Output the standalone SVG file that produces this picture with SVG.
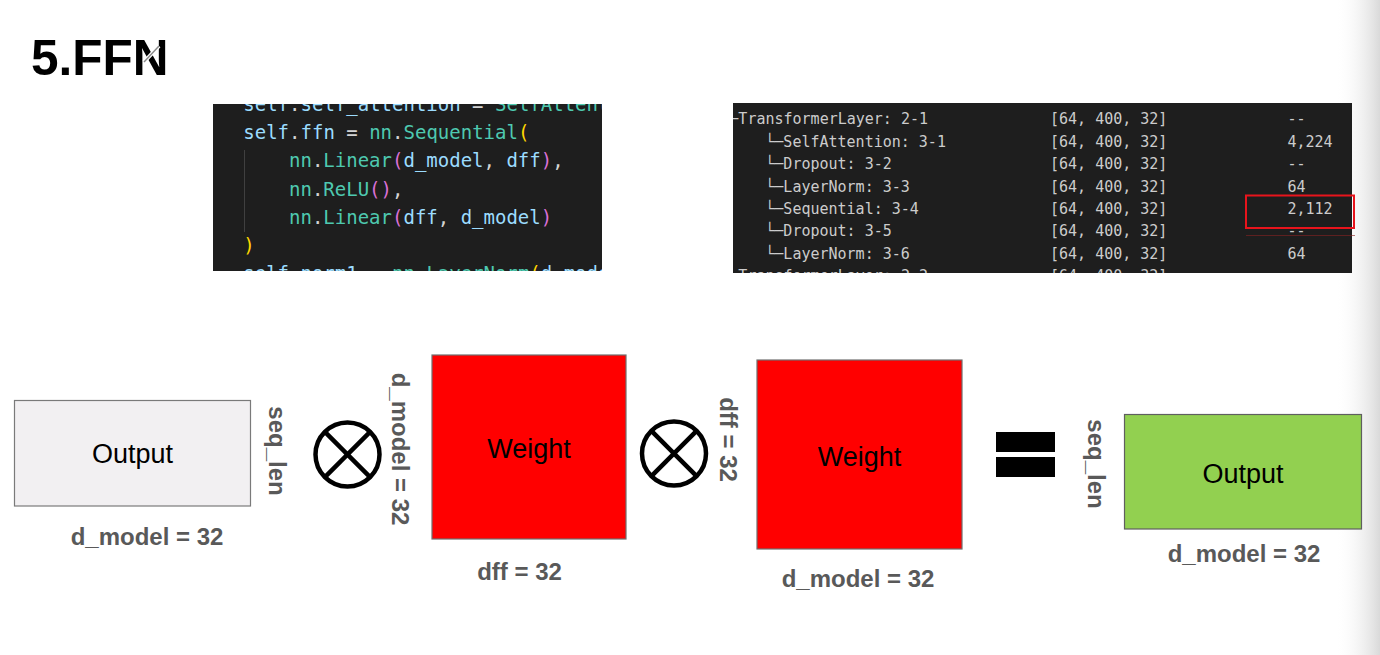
<svg xmlns="http://www.w3.org/2000/svg" width="1380" height="655" viewBox="0 0 1380 655">
<defs>
<style>
.mono{font-family:"DejaVu Sans Mono","Liberation Mono",monospace;white-space:pre}
.code{font-size:19px}
.tbl{font-size:15px;fill:#cccccc}
.v{fill:#9cdcfe}.p{fill:#d4d4d4}.t{fill:#4ec9b0}.y{fill:#ffd700}.m{fill:#da70d6}
.box{font-family:"Liberation Sans",Arial,sans-serif;font-size:27px;fill:#000;text-anchor:middle}
.lbl{font-family:"Liberation Sans",Arial,sans-serif;font-size:24px;font-weight:bold;fill:#595959;text-anchor:middle}
.op{fill:none;stroke:#000;stroke-width:4.5}
</style>
<clipPath id="clipCode"><rect x="213" y="104" width="389" height="167"/></clipPath>
<clipPath id="clipTbl"><rect x="733" y="103" width="619" height="170"/></clipPath>
<linearGradient id="edge" x1="0" y1="0" x2="1" y2="0">
<stop offset="0" stop-color="#ffffff" stop-opacity="0"/>
<stop offset="1" stop-color="#d9d9d9"/>
</linearGradient>
</defs>
<rect width="1380" height="655" fill="#ffffff"/>
<rect x="1335" y="0" width="45" height="655" fill="url(#edge)"/>

<g id="title">
<text x="31" y="75" font-family="'Liberation Sans',Arial,sans-serif" font-size="49.5" font-weight="bold" fill="#000">5.FFN</text>
<line x1="144" y1="62" x2="159" y2="46" stroke="#ffffff" stroke-width="4"/>
<line x1="144" y1="62" x2="159" y2="46" stroke="#8a8a8a" stroke-width="1.5"/>
</g>

<g id="code-panel">
<rect x="213" y="104" width="389" height="167" fill="#1e1e1e"/>
<g clip-path="url(#clipCode)" class="mono code">
<line x1="244.5" y1="150" x2="244.5" y2="232" stroke="#404040" stroke-width="1"/>
<text x="243.3" y="111"><tspan class="v">self</tspan><tspan class="p">.</tspan><tspan class="v">self_attention</tspan><tspan class="p"> = </tspan><tspan class="t">SelfAttention</tspan><tspan class="y">(</tspan></text>
<text x="243.3" y="139"><tspan class="v">self</tspan><tspan class="p">.</tspan><tspan class="v">ffn</tspan><tspan class="p"> = </tspan><tspan class="t">nn</tspan><tspan class="p">.</tspan><tspan class="t">Sequential</tspan><tspan class="y">(</tspan></text>
<text x="289" y="167.3"><tspan class="t">nn</tspan><tspan class="p">.</tspan><tspan class="t">Linear</tspan><tspan class="m">(</tspan><tspan class="v">d_model</tspan><tspan class="p">, </tspan><tspan class="v">dff</tspan><tspan class="m">)</tspan><tspan class="p">,</tspan></text>
<text x="289" y="195.5"><tspan class="t">nn</tspan><tspan class="p">.</tspan><tspan class="t">ReLU</tspan><tspan class="m">()</tspan><tspan class="p">,</tspan></text>
<text x="289" y="223.5"><tspan class="t">nn</tspan><tspan class="p">.</tspan><tspan class="t">Linear</tspan><tspan class="m">(</tspan><tspan class="v">dff</tspan><tspan class="p">, </tspan><tspan class="v">d_model</tspan><tspan class="m">)</tspan></text>
<text x="243.3" y="251.5"><tspan class="y">)</tspan></text>
<text x="243.3" y="279.7"><tspan class="v">self</tspan><tspan class="p">.</tspan><tspan class="v">norm1</tspan><tspan class="p"> = </tspan><tspan class="t">nn</tspan><tspan class="p">.</tspan><tspan class="t">LayerNorm</tspan><tspan class="y">(</tspan><tspan class="v">d_model</tspan><tspan class="y">)</tspan></text>
</g>
</g>

<g id="summary-panel">
<rect x="733" y="103" width="619" height="170" fill="#1e1e1e"/>
<g clip-path="url(#clipTbl)" class="mono tbl">
<text x="720.3" y="124.3">├─TransformerLayer: 2-1</text>
<text x="765.3" y="146.7">└─SelfAttention: 3-1</text>
<text x="765.3" y="169.1">└─Dropout: 3-2</text>
<text x="765.3" y="191.5">└─LayerNorm: 3-3</text>
<text x="765.3" y="213.9">└─Sequential: 3-4</text>
<text x="765.3" y="236.3">└─Dropout: 3-5</text>
<text x="765.3" y="258.7">└─LayerNorm: 3-6</text>
<text x="720.3" y="281.1">├─TransformerLayer: 2-2</text>
<text x="1050" y="124.3">[64, 400, 32]</text>
<text x="1050" y="146.7">[64, 400, 32]</text>
<text x="1050" y="169.1">[64, 400, 32]</text>
<text x="1050" y="191.5">[64, 400, 32]</text>
<text x="1050" y="213.9">[64, 400, 32]</text>
<text x="1050" y="236.3">[64, 400, 32]</text>
<text x="1050" y="258.7">[64, 400, 32]</text>
<text x="1050" y="281.1">[64, 400, 32]</text>
<text x="1287.5" y="124.3">--</text>
<text x="1287.5" y="146.7">4,224</text>
<text x="1287.5" y="169.1">--</text>
<text x="1287.5" y="191.5">64</text>
<text x="1287.5" y="213.9">2,112</text>
<text x="1287.5" y="236.3">--</text>
<text x="1287.5" y="258.7">64</text>
</g>
<rect x="1246" y="195.5" width="108" height="32.5" fill="none" stroke="#e8141c" stroke-width="2"/>
<line x1="1246" y1="235.5" x2="1355" y2="235.5" stroke="#8a2222" stroke-width="1" opacity="0.6"/>
</g>

<g id="node-output1">
<rect x="14.5" y="400.5" width="236" height="105.5" fill="#f2f0f2" stroke="#7a7a7a" stroke-width="1.2"/>
<text class="box" x="132.5" y="463">Output</text>
<text class="lbl" x="147" y="545">d_model = 32</text>
<text class="lbl" transform="translate(269,451) rotate(90)">seq_len</text>
</g>

<g id="op-mul1">
<circle class="op" cx="347.5" cy="454.5" r="32"/>
<line class="op" x1="324.9" y1="431.9" x2="370.1" y2="477.1"/>
<line class="op" x1="370.1" y1="431.9" x2="324.9" y2="477.1"/>
</g>

<g id="node-weight1">
<text class="lbl" transform="translate(392,449) rotate(90)">d_model = 32</text>
<rect x="432" y="355" width="194" height="184" fill="#ff0000" stroke="#6f6f6f" stroke-width="1.2"/>
<text class="box" x="529" y="458">Weight</text>
<text class="lbl" x="519.5" y="580">dff = 32</text>
</g>

<g id="op-mul2">
<circle class="op" cx="674" cy="453.5" r="32"/>
<line class="op" x1="651.4" y1="430.9" x2="696.6" y2="476.1"/>
<line class="op" x1="696.6" y1="430.9" x2="651.4" y2="476.1"/>
</g>

<g id="node-weight2">
<text class="lbl" transform="translate(720,439.5) rotate(90)">dff = 32</text>
<rect x="757" y="360" width="205" height="189" fill="#ff0000" stroke="#6f6f6f" stroke-width="1.2"/>
<text class="box" x="859.5" y="465.5">Weight</text>
<text class="lbl" x="858" y="587">d_model = 32</text>
</g>

<g id="op-equals">
<rect x="996" y="432" width="59" height="20" fill="#000"/>
<rect x="996" y="457" width="59" height="20" fill="#000"/>
</g>

<g id="node-output2">
<text class="lbl" transform="translate(1088,464) rotate(90)">seq_len</text>
<rect x="1124.5" y="414.5" width="237" height="114.5" fill="#92d050" stroke="#5f5f5f" stroke-width="1.2"/>
<text class="box" x="1243" y="483">Output</text>
<text class="lbl" x="1244" y="562">d_model = 32</text>
</g>

<g id="connectors"/>
</svg>
